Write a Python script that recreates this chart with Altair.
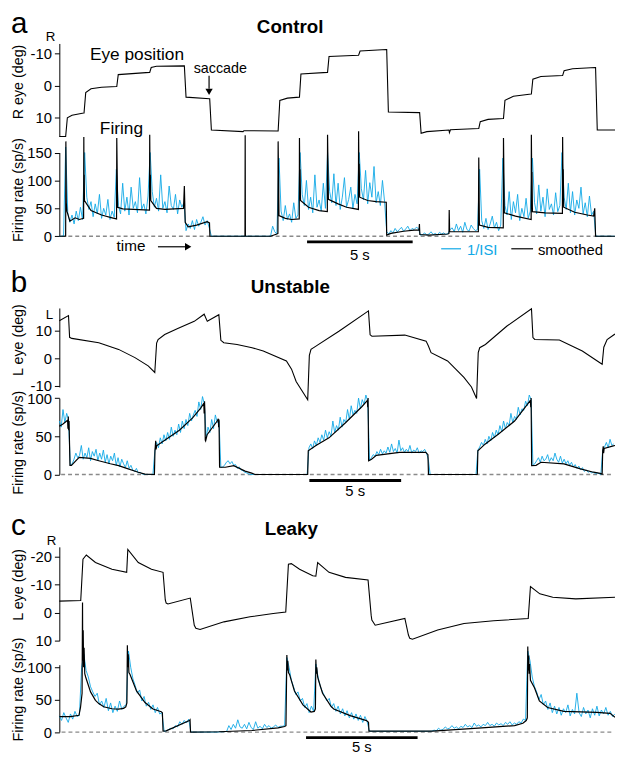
import altair as alt
import numpy as np
import pandas as pd

# ---------------- data ----------------
# sampling step of the 1/ISI traces (s)
DT = 0.1

# Panel a (Control)
EYE_A = [(0, 15.8), (0.30, 15.8), (0.38, 10.0), (0.6, 9.2), (1.15, 8.5), (1.17, 8.5), (1.25, 2.2), (1.5, 1.0),
         (2.0, 0.5), (2.71, 0.3), (2.72, 0.3), (2.79, -3.4), (4.27, -4.1), (4.28, -4.1), (4.35, -5.6), (4.6, -6.0),
         (5.91, -6.1), (5.92, -6.1), (6.0, 3.6), (7.11, 4.1), (7.12, 4.1), (7.2, 13.8), (8.7, 14.3), (8.74, 14.0),
         (10.35, 14.1), (10.36, 14.1), (10.44, 4.6), (10.8, 3.9), (11.36, 3.6), (11.37, 3.6), (11.44, -3.6),
         (12.69, -4.1), (12.70, -4.1), (12.77, -9.0), (14.16, -9.4), (14.17, -9.4), (14.24, -10.7), (15.49, -11.2),
         (15.50, -11.2), (15.58, 8.2), (17.05, 8.4), (17.06, 8.4), (17.13, 14.8), (17.4, 14.3), (18.45, 13.8),
         (18.47, 14.6), (18.52, 13.7), (19.85, 13.3), (19.86, 13.3), (19.93, 11.2), (20.3, 10.5), (21.02, 10.2),
         (21.03, 10.2), (21.1, 4.6), (21.5, 3.3), (22.34, 2.6), (22.35, 2.6), (22.42, -2.0), (22.8, -2.8),
         (23.82, -3.1), (23.83, -3.1), (23.9, -4.6), (24.3, -5.2), (25.38, -5.6), (25.39, -5.6), (25.47, 13.8),
         (26.31, 13.8)]
SMOOTH_A = [(0, 0), (0.30, 0), (0.31, 170), (0.33, 60), (0.36, 45), (0.5, 27), (0.75, 33), (0.95, 30), (1.15, 32),
            (1.16, 178), (1.17, 70), (1.18, 110), (1.19, 64), (1.5, 46), (2.0, 38), (2.5, 33), (2.71, 31),
            (2.72, 176), (2.76, 52), (3.0, 49), (4.27, 47), (4.28, 182), (4.30, 80), (4.31, 110), (4.33, 64),
            (4.6, 50), (5.0, 48), (5.88, 50), (5.92, 90), (5.96, 25), (6.1, 17), (6.5, 20), (7.0, 26), (7.11, 24),
            (7.13, 0), (8.79, 0), (8.80, 181), (8.81, 0), (10.0, 0), (10.3, 4), (10.35, 5), (10.36, 170),
            (10.40, 37), (10.7, 32), (11.0, 30), (11.36, 31), (11.37, 176), (11.39, 90), (11.40, 120), (11.42, 64),
            (11.8, 52), (12.3, 46), (12.69, 44), (12.70, 182), (12.74, 66), (13.2, 58), (13.6, 52), (14.16, 48),
            (14.17, 188), (14.19, 95), (14.20, 130), (14.22, 70), (14.6, 64), (15.0, 62), (15.48, 61), (15.50, 2),
            (15.7, 5), (16.3, 9), (16.8, 11), (17.03, 11), (17.05, 22), (17.07, 3), (17.5, 2), (18.4, 4),
            (18.45, 5), (18.46, 47), (18.48, 8), (19.84, 8), (19.86, 141), (19.89, 20), (20.3, 16), (21.02, 15),
            (21.03, 176), (21.07, 42), (21.6, 36), (22.34, 30), (22.35, 182), (22.37, 90), (22.38, 115),
            (22.40, 44), (23.0, 42), (23.82, 41), (23.83, 178), (23.85, 90), (23.86, 120), (23.88, 52), (24.4, 43),
            (25.0, 38), (25.3, 36), (25.35, 50), (25.39, 0), (26.31, 0)]
ISI_A = [0, 0, 0, 160, 42, 25, 38, 22, 45, 28, 52, 30, 150,
         70, 48, 62, 35, 58, 40, 75, 32, 50, 38, 66, 30, 45, 34, 120,
         55, 40, 95, 45, 70, 38, 88, 50, 62, 42, 105, 48, 58, 40, 72, 150,
         80, 52, 68, 45, 110, 50, 62, 42, 90, 55, 48, 75, 40, 65, 52, 60,
         10, 22, 14, 28, 12, 30, 18, 25, 35, 20, 28, 15,
         0, 0, 0, 0, 0, 0, 0, 0, 0, 0, 0, 0, 0, 0, 0, 0, 0, 0, 0, 0, 0, 0, 0, 0, 0, 0, 0, 0, 0,
         18, 8, 4, 140,
         45, 28, 55, 30, 40, 25, 60, 32, 38, 150,
         75, 55, 100, 48, 70, 42, 110, 52, 65, 45, 95, 50, 150,
         80, 60, 112, 55, 95, 48, 70, 105, 52, 66, 88, 50, 75, 58, 150,
         85, 65, 118, 58, 96, 70, 125, 60, 80, 55, 100, 62, 8,
         4, 10, 6, 14, 8, 12, 16, 9, 13, 18, 10, 14, 12, 16, 14,
         2, 3, 6, 2, 4, 8, 3, 5, 2, 7, 4, 6, 3, 5, 12,
         15, 8, 22, 10, 18, 7, 25, 12, 9, 20, 14, 10, 12, 120,
         28, 14, 32, 12, 22, 36, 15, 25, 10, 20, 140,
         55, 38, 80, 30, 62, 42, 75, 28, 50, 35, 68, 32, 45, 140,
         60, 40, 92, 45, 70, 35, 85, 48, 58, 38, 78, 44, 55, 150,
         70, 48, 95, 42, 80, 38, 65, 50, 88, 40, 60, 35, 72, 38, 45,
         0, 0, 0, 0, 0, 0, 0, 0, 0, 0]

# Panel b (Unstable)
EYE_B = [(0, 13.6), (0.50, 15.5), (0.56, 7.6), (0.68, 7.2), (2.15, 5.6), (3.23, 3.2), (4.12, 0.2), (4.84, -2.8),
         (5.20, -5.2), (5.30, 5.5), (5.38, 6.8), (5.74, 8.6), (6.45, 10.8), (7.35, 13.4), (7.89, 16.0),
         (8.06, 13.4), (8.69, 15.8), (8.80, 6.5), (8.96, 5.6), (9.68, 5.0), (10.5, 3.8), (11.11, 2.6),
         (12.37, -1.0), (12.65, -4.0), (12.9, -8.5), (13.53, -15.1), (13.62, 1.0), (13.71, 3.2), (13.98, 4.4),
         (15.23, 9.8), (16.84, 17.2), (16.93, 8.5), (17.03, 8.0), (18.82, 8.4), (19.98, 6.2), (20.10, 4.5),
         (20.25, 2.0), (21.15, -1.0), (22.04, -7.0), (22.45, -10.5), (22.73, -14.7), (22.82, 2.0), (22.90, 3.8),
         (23.21, 5.0), (24.37, 11.6), (25.72, 18.0), (25.80, 7.5), (25.90, 6.8), (27.24, 6.6), (28.49, 2.6),
         (29.57, -2.2), (29.66, 4.0), (29.84, 6.8), (30.27, 8.8)]
SMOOTH_B = [(0, 63), (0.2, 66), (0.45, 71), (0.47, 60), (0.49, 76), (0.51, 58), (0.53, 70), (0.58, 12), (0.66, 12),
            (1.08, 22.5), (1.70, 21), (2.15, 18), (2.78, 14), (3.23, 11.6), (3.67, 8), (4.30, 3), (4.66, 0.5),
            (5.18, 0), (5.21, 31), (5.25, 44), (5.27, 33), (5.30, 37.5), (5.82, 46), (6.54, 58), (7.26, 74),
            (7.70, 87), (7.87, 93), (7.89, 80), (7.91, 96), (7.93, 82), (7.95, 45), (7.97, 44), (8.05, 52),
            (8.60, 70), (8.66, 73), (8.68, 62), (8.70, 72), (8.73, 9.5), (9.05, 9.5), (9.50, 11.6), (10.12, 4.4),
            (10.48, 1.8), (10.66, 0), (13.53, 0), (13.56, 31), (13.98, 38), (14.69, 48), (15.59, 67.7),
            (16.49, 89), (16.78, 97), (16.80, 88), (16.82, 100), (16.85, 18), (17.01, 20), (17.27, 25),
            (18.53, 29), (19.96, 29), (20.08, 26), (20.11, 0), (22.77, 0), (22.80, 31), (23.19, 39.7),
            (23.91, 52.6), (24.80, 70), (25.34, 87), (25.66, 97), (25.68, 88), (25.70, 100), (25.73, 11.6),
            (25.97, 12), (26.24, 16), (27.49, 13.8), (28.39, 7.4), (29.10, 3), (29.46, 1.5), (29.57, 0.5),
            (29.60, 31), (29.63, 37), (29.65, 28), (29.68, 34), (30.18, 37.5), (30.27, 38)]
ISI_B = [70, 62, 85, 68, 80, 72, 12, 14, 20, 28, 22,
         25, 38, 20, 28, 22, 35, 18, 30, 24, 33,
         18, 28, 20, 32, 16, 26, 14, 24, 18, 28,
         12, 22, 10, 20, 14, 9, 18, 8, 12, 6,
         4, 8, 2, 3, 1, 0, 0, 0, 0, 0, 0, 30,
         42, 35, 48, 40, 52, 44, 55, 46, 62, 50, 58, 52, 66, 55, 70, 60, 72, 64, 80, 70, 78, 84, 76, 95, 85, 102,
         92, 48, 62, 55, 72, 60, 78, 68, 70,
         9, 10, 12, 16, 18, 14, 17, 12, 13, 8, 10, 6, 5, 3, 2, 1, 0,
         0, 0, 0, 0, 0, 0, 0, 0, 0, 0, 0, 0, 0, 0, 0, 0, 0, 0, 0, 0, 0, 0, 0, 0, 0, 0, 0, 0, 0, 0, 0,
         35, 40, 34, 44, 38, 48, 42, 52, 45, 58, 48, 56, 50, 70, 55, 64, 58, 75, 62, 72, 68, 85, 72, 90, 78, 84,
         80, 100, 86, 98, 92, 104, 96, 18,
         22, 26, 24, 30, 26, 33, 27, 31, 28, 36, 29, 40, 30, 34, 28, 45, 31, 35, 29, 33, 30, 38, 28, 32, 30, 35,
         28, 31, 30, 33, 28, 20,
         0, 0, 0, 0, 0, 0, 0, 0, 0, 0, 0, 0, 0, 0, 0, 0, 0, 0, 0, 0, 0, 0, 0, 0, 0, 0, 32,
         36, 42, 38, 46, 40, 50, 44, 55, 48, 58, 52, 64, 56, 70, 60, 68, 64, 80, 68, 76, 72, 88, 78, 86, 84, 96,
         90, 104, 98, 12,
         14, 18, 22, 16, 24, 18, 20, 26, 17, 22, 18, 28, 20, 16, 24, 15, 20, 14, 18, 12, 16, 10, 13, 8, 11, 6, 9,
         4, 6, 3, 4, 2, 3, 1, 2, 1, 0,
         32, 36, 42, 35, 46, 38, 40]

# Panel c (Leaky)
EYE_C = [(0, -4.1), (0.96, -4.3), (1.06, -19.1), (1.21, -20.6), (1.62, -17.9), (2.36, -15.5), (3.02, -14.4),
         (3.07, -22.6), (3.54, -17.9), (4.13, -15.5), (4.65, -14.4), (4.75, -4.5), (4.79, -3.4), (4.87, -3.1),
         (5.87, -5.2), (6.05, 4.5), (6.12, 5.6), (6.31, 6.0), (7.38, 3.3), (8.55, 1.5), (9.59, 0.3),
         (10.15, -0.2), (10.27, -17.3), (10.40, -17.5), (10.77, -15.5), (11.36, -13.2), (11.50, -13.0),
         (11.58, -17.9), (12.09, -14.4), (12.83, -12.6), (13.84, -11.7), (13.98, 1.0), (14.01, 2.7),
         (14.16, 4.5), (15.49, 2.1), (15.65, 8.0), (15.71, 9.2), (15.83, 9.5), (16.96, 6.2), (18.14, 3.9),
         (19.47, 2.9), (21.02, 2.1), (21.12, -9.3), (21.54, -6.7), (22.12, -5.5), (23.15, -4.9), (24.91, -5.5)]
SMOOTH_C = [(0, 24), (0.5, 24), (0.88, 26), (0.95, 38), (1.02, 60), (1.04, 200), (1.05, 110), (1.07, 157),
            (1.09, 100), (1.11, 130), (1.14, 90), (1.18, 85), (1.40, 62), (1.62, 49), (1.77, 44), (1.99, 39),
            (2.36, 36), (2.65, 35.5), (2.88, 36.5), (2.98, 39), (3.03, 45), (3.05, 134), (3.07, 100),
            (3.09, 120), (3.12, 92), (3.17, 89), (3.46, 63.5), (3.84, 45.7), (4.20, 35.6), (4.57, 31.5),
            (4.62, 30), (4.65, 1.5), (4.79, 2), (5.83, 17.8), (5.86, 19), (5.88, 0), (7.15, 0.5), (8.63, 2.5),
            (9.81, 6.6), (10.10, 8.6), (10.16, 10), (10.20, 119), (10.22, 95), (10.24, 110), (10.27, 92),
            (10.32, 89), (10.54, 63.5), (10.92, 42), (11.28, 31), (11.43, 32), (11.48, 36), (11.50, 112),
            (11.52, 90), (11.54, 100), (11.58, 85), (11.62, 80), (11.80, 60), (12.17, 40), (12.30, 35.6),
            (13.04, 25.4), (13.77, 17.8), (13.86, 15.3), (13.88, 1.5), (16.73, 1.5), (18.94, 6.6), (20.41, 10),
            (20.78, 13.7), (20.93, 17.8), (20.98, 22), (21.00, 132), (21.02, 95), (21.04, 118), (21.06, 90),
            (21.08, 105), (21.12, 80), (21.30, 68.5), (21.52, 48), (21.89, 38), (22.62, 32), (24.10, 30.4),
            (24.69, 29), (24.91, 23)]
ISI_C = [25, 18, 30, 22, 15, 28, 20, 32, 24, 26, 100,
         120, 95, 85, 70, 62, 55, 60, 42, 48, 38, 52, 33, 45, 30, 40, 32, 48, 35, 40, 42, 125,
         100, 82, 72, 60, 65, 48, 55, 40, 46, 35, 42, 30, 38, 28, 30,
         1, 2, 4, 6, 5, 10, 8, 16, 12, 18, 14, 20, 0,
         0, 0, 0, 0, 0, 0, 0, 0, 0, 0, 0, 0,
         0.5, 0.6, 0.7, 1, 10, 4, 12, 6, 19, 8, 6, 12, 5, 15, 7, 4,
         16, 6, 9, 5, 12, 7, 10, 6, 8, 11, 7, 9, 9, 10, 115,
         100, 80, 70, 58, 62, 48, 52, 38, 44, 30, 40, 32, 105,
         85, 70, 62, 55, 48, 52, 38, 44, 32, 40, 28, 36, 25, 33, 22, 30, 20, 28, 18, 26, 15, 24, 16, 1.5,
         1.2, 1.2, 1.2, 1.2, 1.2, 1.2, 1.2, 1.2, 1.2, 1.2, 1.2, 1.2, 1.2, 1.2, 1.2, 1.2, 1.2, 1.2, 1.2, 1.2,
         1.2, 1.2, 1.2, 1.2, 1.2, 1.2, 1.2,
         1.5, 3, 2, 6, 3, 4, 8, 5, 6, 10, 6, 8, 5, 9, 7, 12, 8, 10, 7, 14, 9, 11, 8, 12, 10, 15, 10, 12, 9, 14,
         11, 13, 10, 15, 12, 16, 11, 14, 12, 16, 14, 20, 18, 125,
         110, 85, 70, 62, 50, 58, 42, 48, 35, 45, 30, 40, 28, 38, 26, 36, 30, 42, 25, 35, 28, 60, 30, 24, 38,
         28, 34, 22, 36, 26, 40, 25, 34, 28, 38, 26, 32, 24, 28]

TITLES = {"a": "Control", "b": "Unstable", "c": "Leaky"}
EYE_TITLE = {"a": "R eye (deg)", "b": "L eye (deg)", "c": "L eye (deg)"}
EYE_TICKS = {"a": [-10, 0, 10], "b": [-10, 0, 10], "c": [-20, -10, 0, 10]}
FIR_TICKS = {"a": [0, 50, 100, 150], "b": [0, 50, 100], "c": [0, 50, 100]}
T_MAX = {"a": 26.31, "b": 30.27, "c": 24.91}
EYE_DOM = {"a": [-13.06, 15.73], "b": [-10.47, 18.26], "c": [-23.5, 10]}
FIR_DOM = {"a": [0, 150], "b": [0, 100], "c": [0, 104]}

# ---------------- layout / style ----------------
W = 563
H = 750
FONT = "Liberation Sans"
CYAN = "#10a8e6"
EYE_RNG = {"a": [31, 125], "b": [379, 299], "c": [541, 636]}
FIR_RNG = {"a": [226.3, 141.5], "b": [467.7, 390.3], "c": [728.7, 660.4]}
EYE_TITLE_Y = {"a": 69.5, "b": 331, "c": 579}
FIR_TITLE_Y = {"a": 179, "b": 435, "c": 685}


def xenc(p, field="t"):
    return alt.X(f"{field}:Q", scale=alt.Scale(domain=[0, T_MAX[p]], range=[0, W], nice=False, zero=False),
                 axis=None)


def yenc(p, kind, field="v", axis=None):
    dom = EYE_DOM[p] if kind == "eye" else FIR_DOM[p]
    rng = EYE_RNG[p] if kind == "eye" else FIR_RNG[p]
    return alt.Y(f"{field}:Q", scale=alt.Scale(domain=dom, range=rng, nice=False, zero=False), axis=axis)


def make_axis(title, ticks, ty):
    return alt.Axis(title=title, values=ticks, orient="left", grid=False, labelExpr="datum.value",
                    labelFont=FONT, labelFontSize=15, labelColor="black", labelPadding=3, labelOverlap=False,
                    tickSize=5, tickColor="black", tickWidth=1, domainColor="black", domainWidth=1,
                    titleFont=FONT, titleFontSize=14.5, titleFontWeight="normal", titleColor="black",
                    titleX=-41, titleY=ty, titleAngle=270, titleAlign="center", titleBaseline="middle")


def line(p, kind, t, v, color, width, axis=None):
    df = pd.DataFrame({"t": t, "v": v})
    return alt.Chart(df).mark_line(color=color, strokeWidth=width).encode(
        x=xenc(p), y=yenc(p, kind, axis=axis))


def texts(p, kind, rows, size, align="left", weight="normal", color="black"):
    df = pd.DataFrame(rows, columns=["t", "v", "label"])
    return alt.Chart(df).mark_text(font=FONT, fontSize=size, align=align, baseline="alphabetic",
                                   fontWeight=weight, color=color).encode(
        x=xenc(p), y=yenc(p, kind), text="label:N")


def hrule(p, kind, t1, t2, v, color="black", width=1.0, dash=None):
    df = pd.DataFrame({"t": [t1], "t2": [t2], "v": [v]})
    kw = dict(color=color, strokeWidth=width)
    if dash:
        kw["strokeDash"] = dash
    return alt.Chart(df).mark_rule(**kw).encode(x=xenc(p), x2="t2:Q", y=yenc(p, kind))


def vrule(p, kind, t, v1, v2, width=1.2):
    df = pd.DataFrame({"t": [t], "v": [v1], "v2": [v2]})
    return alt.Chart(df).mark_rule(color="black", strokeWidth=width).encode(x=xenc(p), y=yenc(p, kind),
                                                                              y2="v2:Q")


def head(p, kind, t, v, shape):
    df = pd.DataFrame({"t": [t], "v": [v]})
    return alt.Chart(df).mark_point(shape=shape, filled=True, size=55, color="black", opacity=1,
                                    strokeWidth=0).encode(x=xenc(p), y=yenc(p, kind))


def panel(p, eye, smooth, isi):
    et, ev = zip(*eye)
    st, sv = zip(*smooth)
    it = np.arange(len(isi)) * DT
    return [
        line(p, "eye", et, ev, "black", 1.1, axis=make_axis(EYE_TITLE[p], EYE_TICKS[p], EYE_TITLE_Y[p])),
        hrule(p, "fir", 0.1, T_MAX[p] - 0.1, 0, color="#8a8a8a", width=1.3, dash=[4, 3]),
        line(p, "fir", it, isi, CYAN, 0.9,
             axis=make_axis("Firing rate (sp/s)", FIR_TICKS[p], FIR_TITLE_Y[p])),
        line(p, "fir", st, sv, "black", 1.2),
    ]


layers = []
layers += panel("a", EYE_A, SMOOTH_A, ISI_A)
layers += panel("b", EYE_B, SMOOTH_B, ISI_B)
layers += panel("c", EYE_C, SMOOTH_C, ISI_C)

# panel letters and titles
layers += [
    texts("a", "eye", [(-2.29, -16.4, "a")], 30),
    texts("b", "eye", [(-2.64, 24.2, "b")], 30),
    texts("c", "eye", [(-2.17, -27.8, "c")], 30),
    texts("a", "eye", [(10.93, -16.4, TITLES["a"])], 19, align="center", weight="bold"),
    texts("b", "eye", [(12.58, 23.8, TITLES["b"])], 19, align="center", weight="bold"),
    texts("c", "eye", [(10.40, -27.8, TITLES["c"])], 19, align="center", weight="bold"),
    texts("a", "eye", [(-0.42, -13.7, "R")], 13.5, align="center"),
    texts("b", "eye", [(-0.54, 14.1, "L")], 13.5, align="center"),
    texts("c", "eye", [(-0.35, -24.2, "R")], 13.5, align="center"),
]

# annotations of panel a
layers += [
    texts("a", "eye", [(1.45, -8.0, "Eye position"), (1.92, 15.1, "Firing")], 17.5),
    texts("a", "eye", [(6.36, -4.0, "saccade")], 14.5),
    vrule("a", "eye", 7.09, -3.05, 1.0),
    head("a", "eye", 7.09, 1.94, "triangle-down"),
    texts("a", "fir", [(2.71, -26.9, "time")], 15.5),
    hrule("a", "fir", 4.67, 5.95, -18.9, width=1.2),
    head("a", "fir", 6.10, -18.9, "triangle-right"),
    hrule("a", "fir", 18.08, 19.02, -22.5, color=CYAN, width=1.2),
    texts("a", "fir", [(19.3, -33.1, "1/ISI")], 15, color=CYAN),
    hrule("a", "fir", 21.4, 22.43, -22.5, width=1.2),
    texts("a", "fir", [(22.66, -33.1, "smoothed")], 15),
]

# 5 s scale bars
layers += [
    hrule("a", "fir", 11.73, 16.73, -10.1, width=3),
    texts("a", "fir", [(14.23, -42.8, "5 s")], 15, align="center"),
    hrule("b", "fir", 13.62, 18.62, -7.75, width=3),
    texts("b", "fir", [(16.12, -27.5, "5 s")], 15, align="center"),
    hrule("c", "fir", 11.06, 16.06, -8.5, width=3),
    texts("c", "fir", [(13.56, -30.9, "5 s")], 15, align="center"),
]

chart = alt.layer(*layers).resolve_scale(x="independent", y="independent").properties(
    width=W, height=H,
    padding={"left": 52, "top": 0, "right": 0, "bottom": 0},
    autosize=alt.AutoSizeParams(type="none"),
).configure(background="white").configure_view(stroke=None)

chart.save("out.html", embed_options={"renderer": "svg", "actions": False})
